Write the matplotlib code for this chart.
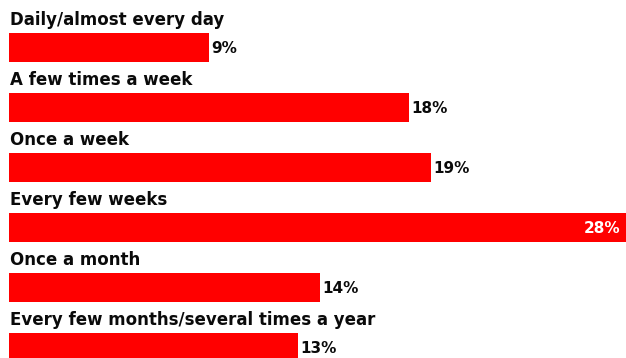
import matplotlib.pyplot as plt

categories = ["Daily/almost every day", "A few times a week", "Once a week",
              "Every few weeks", "Once a month",
              "Every few months/several times a year"]
values = [9, 18, 19, 28, 14, 13]
labels = ["9%", "18%", "19%", "28%", "14%", "13%"]

fig = plt.figure(figsize=(6.26, 3.58), dpi=100)
ax = fig.add_axes([0, 0, 1, 1])

pos = list(range(len(values)))
ax.barh(pos, values, height=0.485, color="#ff0000", edgecolor="none")

for i, (cat, v, lab) in enumerate(zip(categories, values, labels)):
    ax.text(0.03, i - 0.375, cat, fontsize=12, fontweight="bold",
            color="#0a0a0a", va="baseline", ha="left")
    if v == max(values):
        ax.text(v - 0.45, i + 0.02, lab, fontsize=11, fontweight="bold",
                color="white", va="center", ha="right")
    else:
        ax.text(v + 0.12, i + 0.02, lab, fontsize=11, fontweight="bold",
                color="#0a0a0a", va="center", ha="left")

ax.set_xlim(-0.405, 27.79)
ax.set_ylim(5.175, -0.792)
ax.axis("off")

fig.savefig("out.png", dpi=100, facecolor="white")
